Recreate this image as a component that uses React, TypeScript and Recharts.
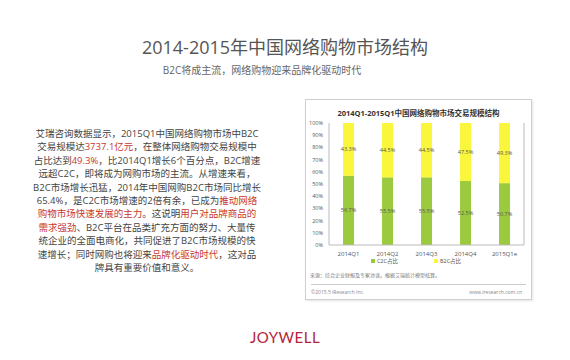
import React from 'react'
import { BarChart, Bar, XAxis, YAxis, LabelList, Legend } from 'recharts'

// quarterly share of online shopping market (%)
const quarters = ['2014Q1', '2014Q2', '2014Q3', '2014Q4', '2015Q1e']
const c2cShare = [56.7, 55.5, 55.5, 52.5, 50.7]
const b2cShare = [43.3, 44.5, 44.5, 47.5, 49.3]
const yTicks = [0, 10, 20, 30, 40, 50, 60, 70, 80, 90, 100]
const seriesNames = ['C2C占比', 'B2C占比']

const GREEN = '#9cca3e'
const YELLOW = '#f9f63c'
const RED = '#c8372d'
const FONT = '"Open Sans", "Noto Sans CJK SC", sans-serif'

const data = quarters.map((q, i) => ({ quarter: q, c2c: c2cShare[i], b2c: b2cShare[i] }))

// left text block, [text, highlighted?] pieces per line
const lines: [string, boolean][][] = [
  [['艾瑞咨询数据显示，2015Q1中国网络购物市场中B2C', false]],
  [['交易规模达', false], ['3737.1亿元', true], ['，在整体网络购物交易规模中', false]],
  [['占比达到', false], ['49.3%', true], ['，比2014Q1增长6个百分点，B2C增速', false]],
  [['远超C2C，即将成为网购市场的主流。从增速来看，', false]],
  [['B2C市场增长迅猛，2014年中国网购B2C市场同比增长', false]],
  [['65.4%，是C2C市场增速的2倍有余，已成为', false], ['推动网络', true]],
  [['购物市场快速发展的主力', true], ['。这说明', false], ['用户对品牌商品的', true]],
  [['需求强劲', true], ['、B2C平台在品类扩充方面的努力、大量传', false]],
  [['统企业的全面电商化，共同促进了B2C市场规模的快', false]],
  [['速增长；同时网购也将迎来', false], ['品牌化驱动时代', true], ['，这对品', false]],
  [['牌具有重要价值和意义。', false]],
]

function ChartLegend() {
  const colors = [GREEN, YELLOW]
  return (
    <div style={{ display: 'flex', justifyContent: 'center', gap: 36, fontSize: 5.5, color: '#555', fontFamily: FONT }}>
      {seriesNames.map((name, i) => (
        <div key={name} style={{ display: 'flex', alignItems: 'center', gap: 2 }}>
          <span style={{ width: 4, height: 4, background: colors[i], display: 'inline-block' }} />
          <span>{name}</span>
        </div>
      ))}
    </div>
  )
}

export default function App() {
  return (
    <div style={{ position: 'absolute', left: 0, top: 0, width: 570, height: 360, background: '#fff', fontFamily: FONT, overflow: 'hidden' }}>
      <div style={{ position: 'absolute', top: 33, width: 570, textAlign: 'center', fontSize: 18, color: '#555' }}>
        2014-2015年中国网络购物市场结构
      </div>
      <div style={{ position: 'absolute', top: 62, left: 160, width: 204, textAlign: 'center', fontSize: 10, color: '#666' }}>
        B2C将成主流，网络购物迎来品牌化驱动时代
      </div>

      <div style={{ position: 'absolute', left: 16, top: 127, width: 262, textAlign: 'center', fontSize: 9.5, lineHeight: '13.4px', color: '#444', whiteSpace: 'nowrap' }}>
        {lines.map((parts, i) => (
          <div key={i}>
            {parts.map(([t, hi], j) => (
              <span key={j} style={hi ? { color: RED } : undefined}>{t}</span>
            ))}
          </div>
        ))}
      </div>

      <div style={{ position: 'absolute', left: 305, top: 99, width: 225, height: 199, border: '1px solid #cfcfcf', boxShadow: '1px 1px 2px #e4e4e4' }}>
        <div style={{ position: 'absolute', top: 7, width: 225, textAlign: 'center', fontSize: 7.5, fontWeight: 'bold', color: '#333' }}>
          2014Q1-2015Q1中国网络购物市场交易规模结构
        </div>
        <div style={{ position: 'absolute', left: -5, top: 1 }}>
          <BarChart
            width={235}
            height={170}
            data={data}
            margin={{ top: 22, right: 11, bottom: 0, left: 6 }}
            barCategoryGap="36%"
          >
            <XAxis
              dataKey="quarter"
              tick={{ fontSize: 6, fill: '#555' }}
              tickLine={false}
              tickSize={0}
              tickMargin={7}
              height={12}
              axisLine={{ stroke: '#bbb' }}
            />
            <YAxis
              domain={[0, 100]}
              ticks={yTicks}
              tickFormatter={(v) => `${v}%`}
              tick={{ fontSize: 5.5, fill: '#555' }}
              tickLine={false}
              tickSize={0}
              tickMargin={6}
              width={22}
              axisLine={{ stroke: '#bbb' }}
              interval={0}
            />
            <YAxis yAxisId="r" orientation="right" domain={[0, 100]} tick={false} tickLine={false} width={1} axisLine={{ stroke: '#bbb' }} />
            <Legend verticalAlign="bottom" height={14} content={() => <ChartLegend />} />
            <Bar dataKey="c2c" name={seriesNames[0]} stackId="s" fill={GREEN} isAnimationActive={false}>
              <LabelList dataKey="c2c" position="center" formatter={(v: any) => `${Number(v).toFixed(1)}%`} style={{ fontSize: 5.5, fill: '#555' }} />
            </Bar>
            <Bar dataKey="b2c" name={seriesNames[1]} stackId="s" fill={YELLOW} isAnimationActive={false}>
              <LabelList dataKey="b2c" position="center" formatter={(v: any) => `${Number(v).toFixed(1)}%`} style={{ fontSize: 5.5, fill: '#555' }} />
            </Bar>
          </BarChart>
        </div>
        <div style={{ position: 'absolute', left: 4, top: 171, fontSize: 5, color: '#777' }}>
          来源：综合企业财报及专家访谈，根据艾瑞统计模型核算。
        </div>
        <div style={{ position: 'absolute', left: 5, right: 5, top: 184, borderTop: '1px solid #ccc' }} />
        <div style={{ position: 'absolute', left: 5, top: 189, fontSize: 5, color: '#888' }}>©2015.5 iResearch Inc.</div>
        <div style={{ position: 'absolute', right: 9, top: 189, fontSize: 5, color: '#888' }}>www.iresearch.com.cn</div>
      </div>

      <div style={{ position: 'absolute', top: 328, width: 570, textAlign: 'center', fontSize: 15, color: '#b5233b', letterSpacing: 0.5, fontFamily: '"Lato", sans-serif' }}>
        JOYWELL
      </div>
    </div>
  )
}
